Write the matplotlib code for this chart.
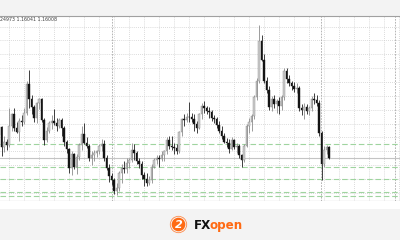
import matplotlib
matplotlib.use("Agg")
import matplotlib.pyplot as plt
import matplotlib.transforms as mtransforms
from matplotlib.patches import Rectangle, Circle
import numpy as np

# ---- data (daily EURUSD-style candles, bar index 0 = 5 Sep 2025)
bar_start = -5
opens = [1.1680, 1.1685, 1.1712, 1.1640, 1.1660, 1.1648, 1.1718, 1.1758, 1.1710, 1.1696,
         1.1735, 1.1732, 1.1762, 1.1868, 1.1812, 1.1784, 1.1746, 1.1798, 1.1812, 1.1738,
         1.1664, 1.1700, 1.1726, 1.1734, 1.1728, 1.1716, 1.1738, 1.1710, 1.1658, 1.1632,
         1.1564, 1.1614, 1.1570, 1.1604, 1.1646, 1.1688, 1.1656, 1.1644, 1.1600, 1.1610,
         1.1618, 1.1625, 1.1644, 1.1650, 1.1602, 1.1566, 1.1536, 1.1520, 1.1482, 1.1492,
         1.1545, 1.1565, 1.1560, 1.1582, 1.1592, 1.1630, 1.1620, 1.1590, 1.1580, 1.1540,
         1.1525, 1.1512, 1.1520, 1.1570, 1.1595, 1.1600, 1.1598, 1.1612, 1.1625, 1.1664,
         1.1645, 1.1640, 1.1638, 1.1626, 1.1696, 1.1740, 1.1738, 1.1750, 1.1748, 1.1742,
         1.1724, 1.1710, 1.1760, 1.1790, 1.1780, 1.1772, 1.1768, 1.1745, 1.1742, 1.1720,
         1.1700, 1.1680, 1.1660, 1.1655, 1.1635, 1.1665, 1.1640, 1.1645, 1.1610, 1.1595,
         1.1645, 1.1715, 1.1730, 1.1752, 1.1820, 1.1880, 1.2022, 1.1956, 1.1880, 1.1845,
         1.1785, 1.1815, 1.1795, 1.1805, 1.1790, 1.1820, 1.1915, 1.1885, 1.1870, 1.1860,
         1.1850, 1.1855, 1.1780, 1.1775, 1.1785, 1.1770, 1.1780, 1.1815, 1.1810, 1.1800,
         1.1690, 1.1578, 1.1630, 1.1640]
highs = [1.1720, 1.1730, 1.1718, 1.1680, 1.1670, 1.1780, 1.1762, 1.1780, 1.1730, 1.1745,
         1.1755, 1.1782, 1.1878, 1.1918, 1.1830, 1.1792, 1.1802, 1.1818, 1.1818, 1.1746,
         1.1712, 1.1736, 1.1755, 1.1778, 1.1745, 1.1745, 1.1746, 1.1716, 1.1665, 1.1636,
         1.1625, 1.1620, 1.1615, 1.1655, 1.1718, 1.1726, 1.1676, 1.1650, 1.1626, 1.1630,
         1.1630, 1.1650, 1.1668, 1.1664, 1.1610, 1.1580, 1.1545, 1.1530, 1.1510, 1.1555,
         1.1580, 1.1590, 1.1600, 1.1602, 1.1655, 1.1650, 1.1625, 1.1600, 1.1590, 1.1552,
         1.1545, 1.1535, 1.1580, 1.1600, 1.1610, 1.1612, 1.1625, 1.1630, 1.1678, 1.1680,
         1.1680, 1.1655, 1.1650, 1.1700, 1.1746, 1.1760, 1.1765, 1.1804, 1.1765, 1.1760,
         1.1735, 1.1765, 1.1800, 1.1808, 1.1790, 1.1785, 1.1775, 1.1755, 1.1750, 1.1735,
         1.1715, 1.1690, 1.1672, 1.1670, 1.1675, 1.1670, 1.1655, 1.1650, 1.1615, 1.1650,
         1.1725, 1.1745, 1.1760, 1.1830, 1.1890, 1.2082, 1.2045, 1.1975, 1.1895, 1.1860,
         1.1825, 1.1830, 1.1815, 1.1820, 1.1830, 1.1926, 1.1925, 1.1900, 1.1880, 1.1875,
         1.1870, 1.1860, 1.1795, 1.1800, 1.1795, 1.1790, 1.1825, 1.1835, 1.1830, 1.1810,
         1.1700, 1.1645, 1.1648, 1.1645]
lows = [1.1660, 1.1680, 1.1608, 1.1622, 1.1630, 1.1640, 1.1700, 1.1700, 1.1690, 1.1662,
        1.1715, 1.1722, 1.1755, 1.1780, 1.1760, 1.1730, 1.1726, 1.1778, 1.1730, 1.1646,
        1.1658, 1.1690, 1.1705, 1.1720, 1.1700, 1.1710, 1.1680, 1.1645, 1.1620, 1.1545,
        1.1540, 1.1560, 1.1542, 1.1595, 1.1630, 1.1650, 1.1638, 1.1590, 1.1576, 1.1590,
        1.1605, 1.1614, 1.1625, 1.1590, 1.1556, 1.1515, 1.1505, 1.1470, 1.1468, 1.1480,
        1.1510, 1.1545, 1.1545, 1.1565, 1.1585, 1.1595, 1.1580, 1.1565, 1.1525, 1.1500,
        1.1498, 1.1502, 1.1510, 1.1565, 1.1580, 1.1570, 1.1590, 1.1590, 1.1615, 1.1635,
        1.1630, 1.1615, 1.1615, 1.1620, 1.1680, 1.1715, 1.1730, 1.1730, 1.1730, 1.1700,
        1.1690, 1.1705, 1.1740, 1.1765, 1.1760, 1.1745, 1.1735, 1.1728, 1.1710, 1.1690,
        1.1670, 1.1655, 1.1640, 1.1620, 1.1630, 1.1635, 1.1620, 1.1600, 1.1570, 1.1585,
        1.1640, 1.1690, 1.1700, 1.1740, 1.1810, 1.1870, 1.1950, 1.1870, 1.1835, 1.1775,
        1.1770, 1.1780, 1.1765, 1.1760, 1.1775, 1.1810, 1.1870, 1.1860, 1.1845, 1.1840,
        1.1835, 1.1770, 1.1755, 1.1740, 1.1760, 1.1755, 1.1770, 1.1795, 1.1790, 1.1680,
        1.1522, 1.1570, 1.1615, 1.1598]
closes = [1.1685, 1.1712, 1.1640, 1.1660, 1.1648, 1.1718, 1.1758, 1.1710, 1.1696, 1.1735,
          1.1732, 1.1762, 1.1868, 1.1812, 1.1784, 1.1746, 1.1798, 1.1812, 1.1738, 1.1664,
          1.1700, 1.1726, 1.1734, 1.1728, 1.1716, 1.1738, 1.1710, 1.1658, 1.1632, 1.1564,
          1.1614, 1.1570, 1.1604, 1.1646, 1.1688, 1.1656, 1.1644, 1.1600, 1.1610, 1.1618,
          1.1625, 1.1644, 1.1650, 1.1602, 1.1566, 1.1536, 1.1520, 1.1482, 1.1492, 1.1545,
          1.1565, 1.1560, 1.1582, 1.1592, 1.1630, 1.1620, 1.1590, 1.1580, 1.1540, 1.1525,
          1.1512, 1.1520, 1.1570, 1.1595, 1.1600, 1.1598, 1.1612, 1.1625, 1.1664, 1.1645,
          1.1640, 1.1638, 1.1626, 1.1696, 1.1740, 1.1738, 1.1750, 1.1748, 1.1742, 1.1724,
          1.1710, 1.1760, 1.1790, 1.1780, 1.1772, 1.1768, 1.1745, 1.1742, 1.1720, 1.1700,
          1.1680, 1.1660, 1.1655, 1.1635, 1.1665, 1.1640, 1.1645, 1.1610, 1.1595, 1.1645,
          1.1715, 1.1730, 1.1752, 1.1820, 1.1880, 1.2022, 1.1956, 1.1880, 1.1845, 1.1785,
          1.1815, 1.1795, 1.1805, 1.1790, 1.1820, 1.1915, 1.1885, 1.1870, 1.1860, 1.1850,
          1.1855, 1.1780, 1.1775, 1.1785, 1.1770, 1.1780, 1.1815, 1.1810, 1.1800, 1.1690,
          1.1578, 1.1630, 1.1640, 1.1601]

date_labels = ['5 Sep 2025', '23 Sep 2025', '9 Oct 2025', '27 Oct 2025',
               '13 Nov 2025', '28 Nov 2025', '16 Dec 2025', '5 Jan 2026', '21 Jan 2026',
               '6 Feb 2026', '24 Feb 2026']
label_step = 12
first_label_bar = 0

green_levels = [1.1652, 1.1568, 1.1525, 1.1478, 1.1464]
bid_price = 1.16008
header = "24973 1.16041 1.16008"

# ---- figure layout (pixel based, 400x240)
W, H = 400, 240
fig = plt.figure(figsize=(4, 2.4), dpi=100)
fig.patch.set_facecolor('#f3f3f3')

top_px, bot_px = 16, 201
ax = fig.add_axes([0, 1 - bot_px / H, 1, (bot_px - top_px) / H])
ax.set_facecolor('white')
# white strip for the date labels
fig.patches.append(Rectangle((0, 1 - 209 / H), 1, (209 - bot_px) / H,
                             transform=fig.transFigure, facecolor='white',
                             edgecolor='none', zorder=0))

px_per_bar = 2.5
x0_px = 9
ax.set_xlim((0 - x0_px) / px_per_bar, (W - x0_px) / px_per_bar)
price_per_px = 0.000361
ax.set_ylim(bid_price - (bot_px - 158) * price_per_px,
            bid_price + (158 - top_px) * price_per_px)

# grid
for xi in range(-6, 160, 6):
    ax.axvline(xi, color='#cfcfcf', lw=0.6, ls=(0, (1, 1.5)), zorder=0)
for yp in np.arange(1.1425, 1.2126, 0.005):
    ax.axhline(yp, color='#cfcfcf', lw=0.6, ls=(0, (1, 1.5)), zorder=0)
for xi in [41.2, 124.8, 154.4]:
    ax.axvline(xi, color='#a8a8a8', lw=0.6, ls=(0, (2, 1.5)), zorder=0)

for lv in green_levels:
    ax.axhline(lv, color='#9fd49f', lw=0.8, ls=(0, (5, 2.5)), zorder=1)
ax.axhline(bid_price, color='#c4c4c4', lw=0.8, zorder=1)

# candles
idx = np.arange(bar_start, bar_start + len(opens))
o = np.array(opens); h = np.array(highs); l = np.array(lows); c = np.array(closes)
up = c >= o
ax.vlines(idx[up], l[up], h[up], color='#8c8c8c', lw=0.6, zorder=2)
ax.vlines(idx[~up], l[~up], h[~up], color='#202020', lw=0.6, zorder=2)
body_lo = np.minimum(o, c)
body_h = np.maximum(np.abs(c - o), 0.00025)
ax.bar(idx[up], body_h[up], bottom=body_lo[up], width=0.62,
       color='#cdcdcd', edgecolor='#8a8a8a', linewidth=0.3, zorder=3)
ax.bar(idx[~up], body_h[~up], bottom=body_lo[~up], width=0.62,
       color='#141414', edgecolor='#141414', linewidth=0.3, zorder=3)

for s in ['left', 'right', 'top']:
    ax.spines[s].set_visible(False)
ax.spines['bottom'].set_color('#808080')
ax.spines['bottom'].set_linewidth(0.8)
ax.set_yticks([])
ax.set_xticks([])

# date labels
trans = mtransforms.blended_transform_factory(ax.transData, ax.transAxes)
for k, lab in enumerate(date_labels):
    xb = first_label_bar + k * label_step
    ax.text(xb + 0.4, -0.012, lab, transform=trans, ha='left', va='top',
            fontsize=3.6, color='#303030', clip_on=False)

# top frame line and header text
fig.add_artist(plt.Line2D([0, 1], [1 - top_px / H] * 2, transform=fig.transFigure,
                          color='#a0a0a0', lw=0.8))
fig.text(0.5 / W, 1 - 19.5 / H, header, fontsize=3.4, color='#404040', va='center')

# FXOpen logo
cx, cy = 178.5 / W, 1 - 224.5 / H
fig.add_artist(Circle((178.5, 240 - 224.5), 8.2, transform=None, facecolor='none',
                      edgecolor='#ff8a4a', lw=0.6))
fig.add_artist(Circle((178.5, 240 - 224.5), 6.8, transform=None, facecolor='#ff6a13',
                      edgecolor='none'))
fig.text(cx, cy, '2', fontsize=8, fontweight='bold', fontstyle='italic',
         color='white', ha='center', va='center')
fig.text(193.5 / W, 1 - 229 / H, 'FX', fontsize=8.6, fontweight='bold',
         color='#111111', ha='left', va='baseline')
fig.text(209.5 / W, 1 - 229 / H, 'open', fontsize=8.6, fontweight='bold',
         color='#ff6a13', ha='left', va='baseline')

fig.savefig('out.png', dpi=100, facecolor=fig.get_facecolor())
